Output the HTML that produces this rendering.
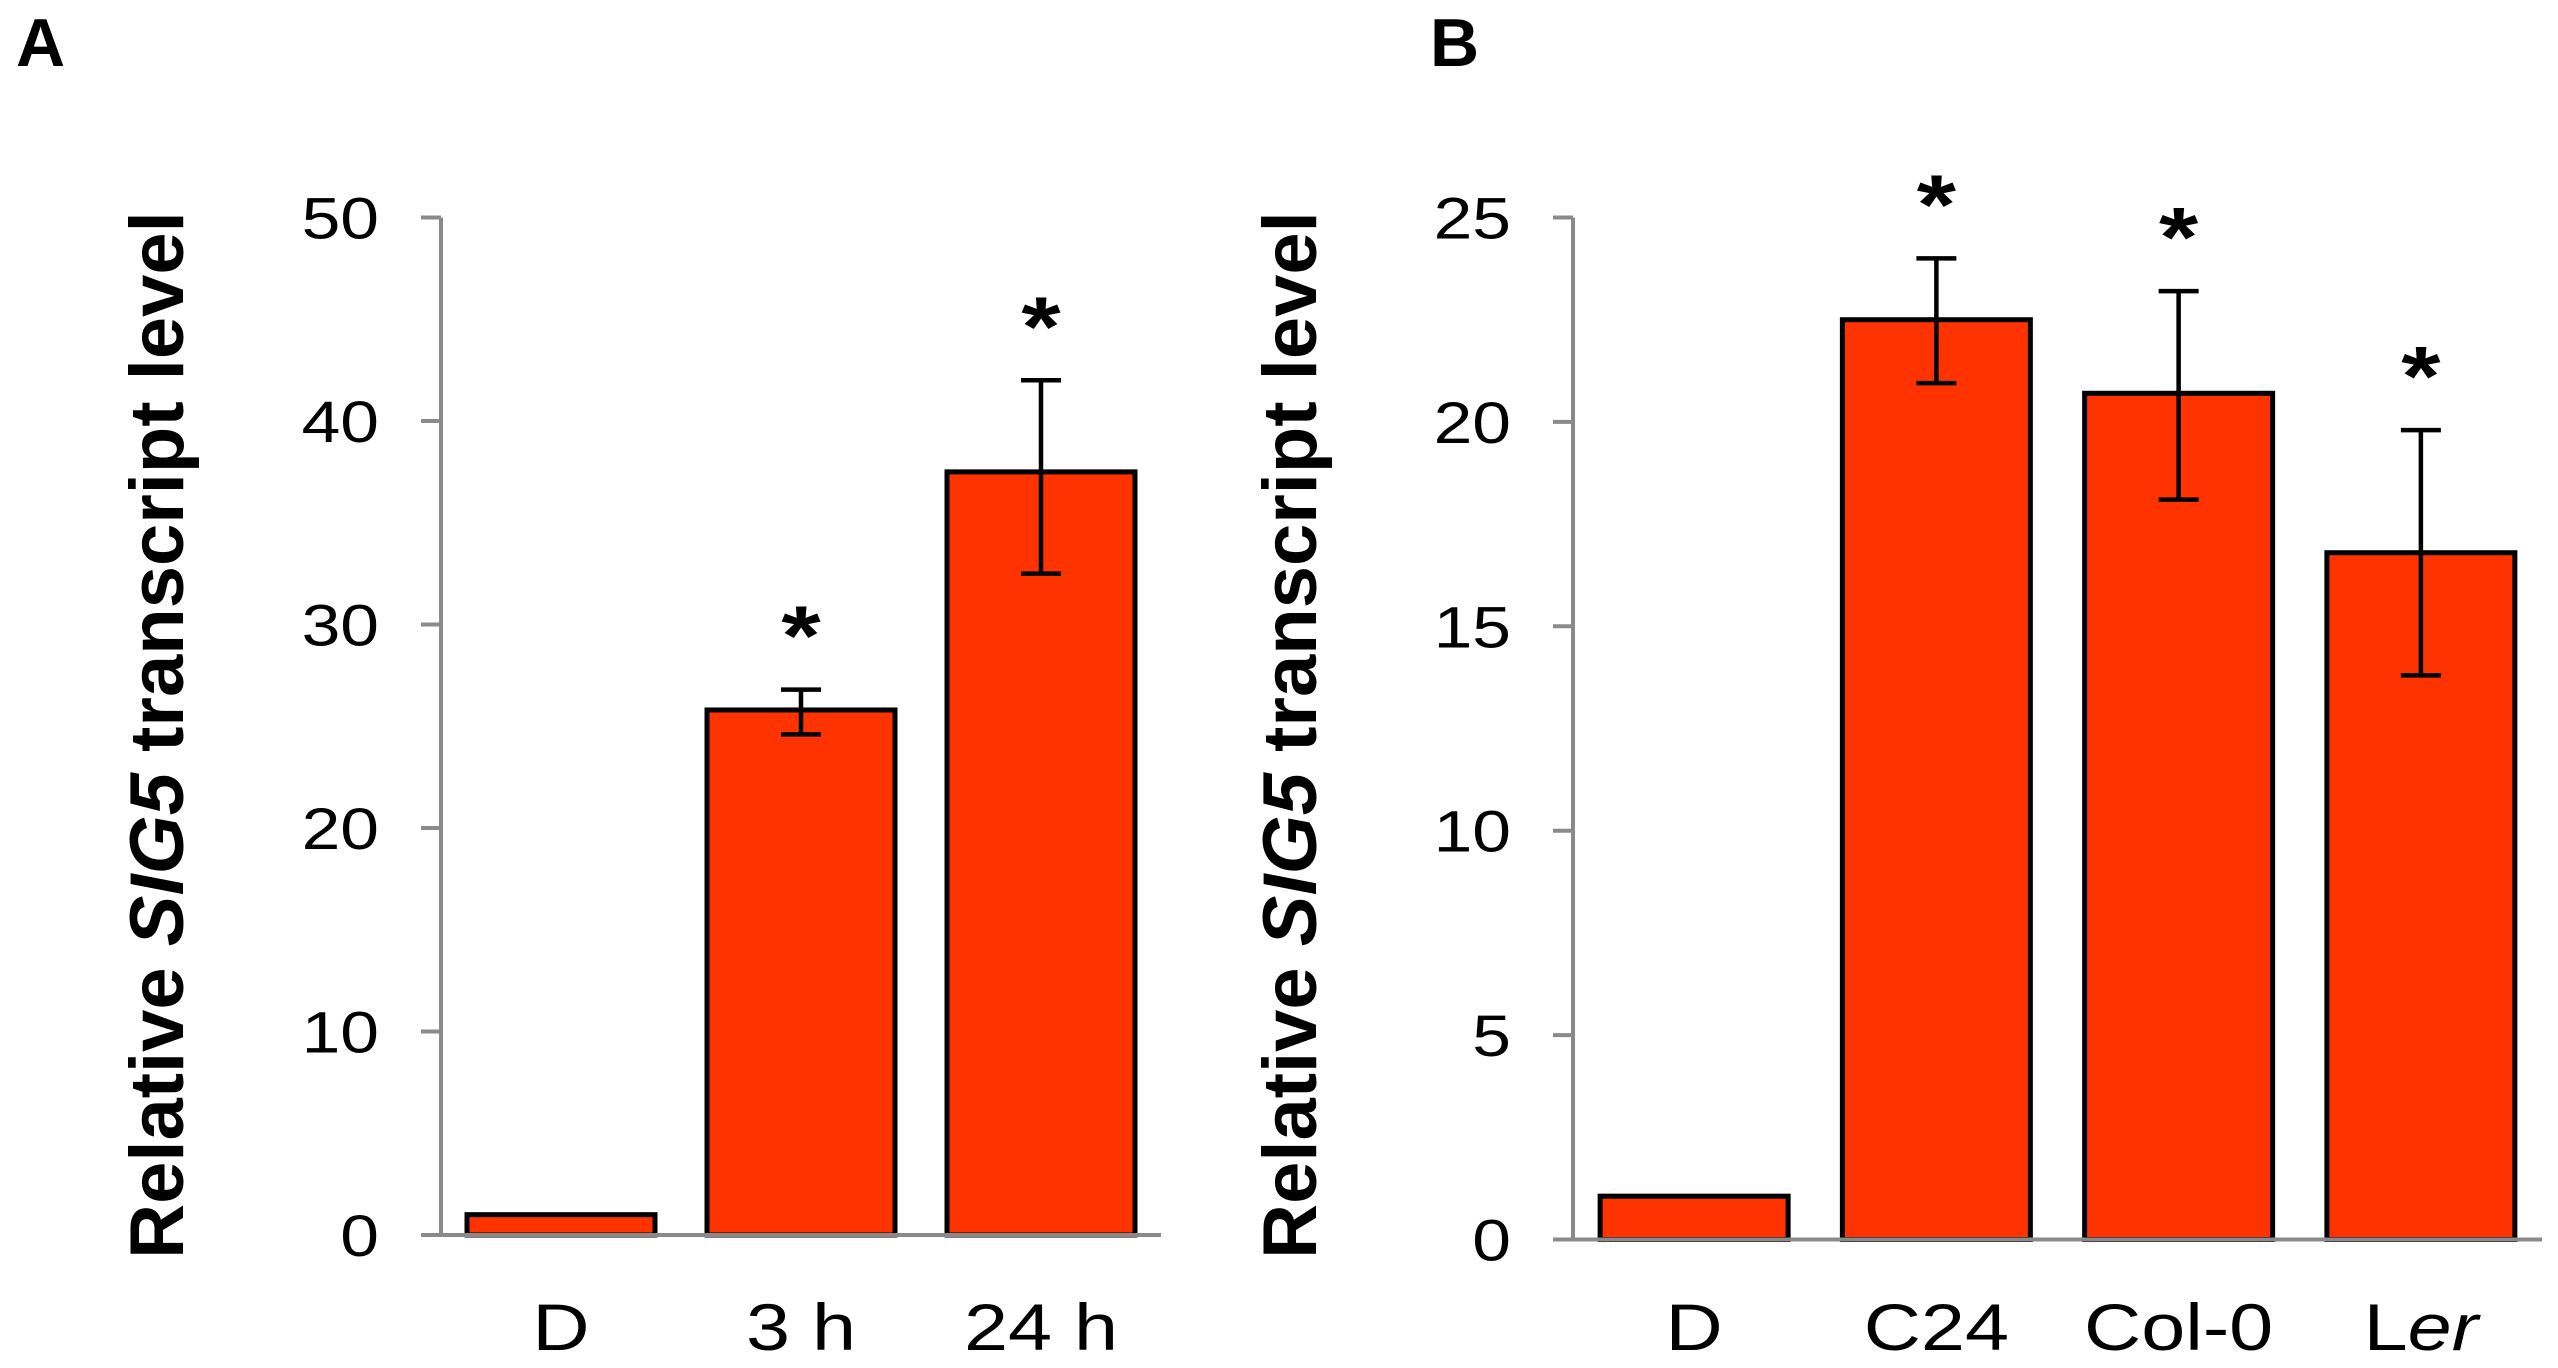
<!DOCTYPE html>
<html><head><meta charset="utf-8"><style>
html,body{margin:0;padding:0;background:#fff;}
svg{display:block;font-family:"Liberation Sans",Arial,sans-serif;}
</style></head><body>
<svg id="chart" width="2558" height="1368" viewBox="0 0 2558 1368" xmlns="http://www.w3.org/2000/svg"></svg>
<script>
const catsA = ["D","3 h","24 h"];
const valsA = [1.0, 25.8, 37.5];
const errHiA = [1.0, 26.8, 42.0];
const errLoA = [1.0, 24.6, 32.5];
const sigA = [false, true, true];
const ticksA = [0,10,20,30,40,50];

const catsB = ["D","C24","Col-0","Ler"];
const valsB = [1.06, 22.5, 20.7, 16.8];
const errHiB = [1.06, 24.0, 23.2, 19.8];
const errLoB = [1.06, 20.95, 18.1, 13.8];
const sigB = [false, true, true, true];
const ticksB = [0,5,10,15,20,25];

const NS = "http://www.w3.org/2000/svg";
const svg = document.getElementById('chart');
function mk(tag, attrs, parent){
  const e = document.createElementNS(NS, tag);
  for (const k in attrs) e.setAttribute(k, attrs[k]);
  (parent||svg).appendChild(e);
  return e;
}

function panel(p){
  const g = mk('g', {});
  
  
  const y = v => p.y0 - v / p.max * (p.y0 - p.yTop);
  const band = (p.x1 - p.x0) / p.cats.length;
  const xc = i => p.x0 + (i + 0.5) * band;

  const L = mk('text', {x:p.letterX, y:66, 'font-size':68, 'font-weight':'bold', fill:'#000'}, g);
  L.textContent = p.letter;
  
  

  const t = mk('text', {x:0, y:0, 'font-size':76, 'font-weight':'bold', 'text-anchor':'middle', fill:'#000',
    transform:'translate(' + p.titleX + ',' + p.titleY + ') rotate(-90)'}, g);
  
  
  t.appendChild(document.createTextNode('Relative '));
  const ts = mk('tspan', {'font-style':'italic'}, t); ts.textContent = 'SIG5';
  t.appendChild(document.createTextNode(' transcript level'));

  p.vals.forEach((v, i) => {
    const r = mk('rect', {x:xc(i) - 94, y:y(v), width:188, height:y(0) - y(v), fill:'#ff3300', stroke:'#000', 'stroke-width':5}, g);
    
    
    if (p.hi[i] !== p.lo[i]) {
      const eg = mk('g', {stroke:'#000', 'stroke-width':4.5}, g);
      
      
      mk('line', {x1:xc(i), x2:xc(i), y1:y(p.hi[i]), y2:y(p.lo[i])}, eg);
      mk('line', {x1:xc(i) - 20, x2:xc(i) + 20, y1:y(p.hi[i]), y2:y(p.hi[i])}, eg);
      mk('line', {x1:xc(i) - 20, x2:xc(i) + 20, y1:y(p.lo[i]), y2:y(p.lo[i])}, eg);
    }
    if (p.sig[i]) {
      const s = mk('text', {x:0, y:0, 'font-size':84, 'font-weight':'bold', 'text-anchor':'middle', fill:'#000',
        transform:'translate(' + xc(i) + ',' + (y(p.hi[i]) - 73 + 48) + ') scale(1.2,1)'}, g);
      s.textContent = '*';
      
      
    }
    const c = mk('text', {x:0, y:0, 'font-size':66, 'text-anchor':'middle', fill:'#000',
      transform:'translate(' + xc(i) + ',1350) scale(1.2,1)'}, g);
    
    
    if (p.cats[i] === 'Ler') {
      c.appendChild(document.createTextNode('L'));
      const it = mk('tspan', {'font-style':'italic'}, c); it.textContent = 'er';
    } else c.textContent = p.cats[i];
  });

  const ax = mk('g', {stroke:'#8a8a8a', 'stroke-width':4}, g);
  
  
  mk('line', {x1:p.x0, x2:p.x0, y1:p.yTop, y2:p.y0}, ax);
  mk('line', {x1:p.x0 - 20, x2:p.x1, y1:p.y0, y2:p.y0}, ax);
  p.ticks.forEach(tv => {
    mk('line', {x1:p.x0 - 20, x2:p.x0, y1:y(tv), y2:y(tv)}, ax);
    const tl = mk('text', {x:0, y:0, 'font-size':58, 'text-anchor':'end', fill:'#000',
      transform:'translate(' + (p.x0 - 62) + ',' + (y(tv) + 21) + ') scale(1.2,1)'}, g);
    tl.textContent = tv;
    
    
  });
}

panel({id:'a', letter:'A', letterX:16, titleX:183, titleY:735, x0:441, x1:1161, y0:1235, yTop:217.5, max:50,
  cats:catsA, vals:valsA, hi:errHiA, lo:errLoA, sig:sigA, ticks:ticksA});
panel({id:'b', letter:'B', letterX:1430, titleX:1316, titleY:735, x0:1573, x1:2542, y0:1239.5, yTop:217.5, max:25,
  cats:catsB, vals:valsB, hi:errHiB, lo:errLoB, sig:sigB, ticks:ticksB});
</script>
</body></html>
